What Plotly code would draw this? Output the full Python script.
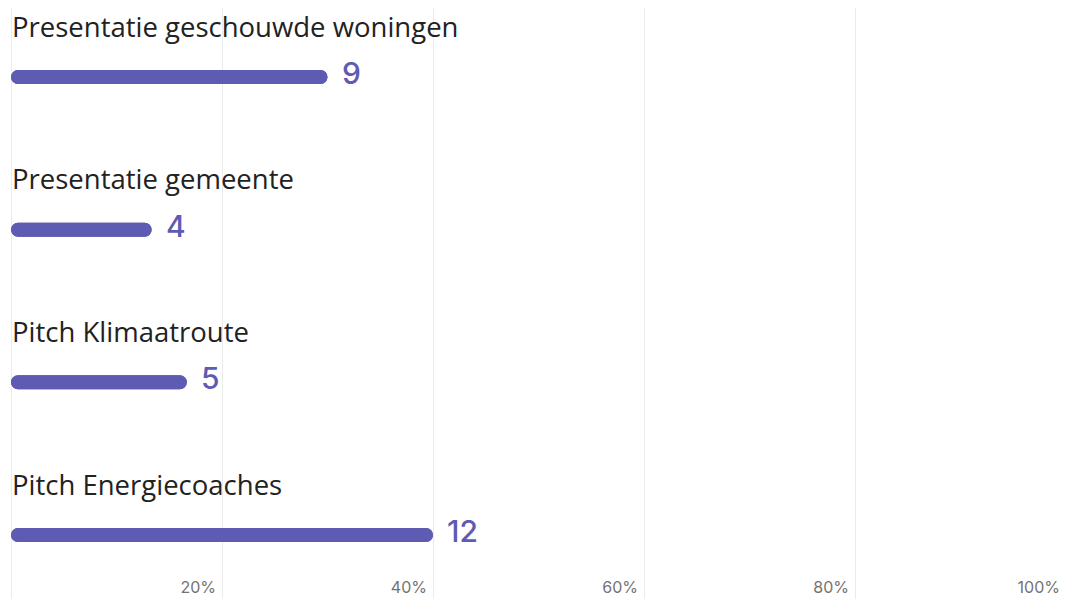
import plotly.graph_objects as go

categories = ["Presentatie geschouwde woningen", "Presentatie gemeente", "Pitch Klimaatroute", "Pitch Energiecoaches"]
counts = [9, 4, 5, 12]
tick_vals = [20, 40, 60, 80, 100]
tick_text = ["20%", "40%", "60%", "80%", "100%"]

total = sum(counts)
pcts = [c / total * 100 for c in counts]
ypos = list(range(len(categories)))

BAR = "#5d5bb2"
W, H = 1072, 594

fig = go.Figure()
# forward bar rounds its right end, backward bar rounds its left end; overlaid they form one pill
fig.add_trace(go.Bar(x=pcts, base=[0] * len(pcts), y=ypos, orientation="h", width=0.092,
                     marker=dict(color=BAR, line=dict(width=0)), hoverinfo="skip"))
fig.add_trace(go.Bar(x=[-p for p in pcts], base=pcts, y=ypos, orientation="h", width=0.092,
                     marker=dict(color=BAR, line=dict(width=0)), hoverinfo="skip"))

for i, (cat, c, p) in enumerate(zip(categories, counts, pcts)):
    fig.add_annotation(x=0, y=i - 0.333, xref="x", yref="y", text=cat, showarrow=False,
                       xanchor="left", yanchor="middle", xshift=-1,
                       font=dict(family="Open Sans", size=27.5, color="#222222"))
    fig.add_annotation(x=p, y=i, xref="x", yref="y", text=str(c), showarrow=False,
                       xanchor="left", yanchor="middle", xshift=12, yshift=4,
                       font=dict(family="Inter", size=30, color=BAR, weight=500))

fig.update_layout(
    width=W, height=H,
    margin=dict(l=3, r=14, t=0, b=0, autoexpand=False),
    plot_bgcolor="white", paper_bgcolor="white",
    showlegend=False,
    barmode="overlay",
    barcornerradius=7,
    xaxis=dict(range=[0, 100], tickvals=tick_vals, ticktext=tick_text,
               ticklabelposition="inside left", showgrid=True, gridcolor="#ebebeb", gridwidth=1,
               zeroline=True, zerolinecolor="#ebebeb", zerolinewidth=1, showline=False,
               ticklabelstandoff=0, ticklabelshift=-6,
               tickfont=dict(family="Inter", size=16, color="#737373"), fixedrange=True),
    yaxis=dict(range=[3.439, -0.452], showticklabels=False, showgrid=False, zeroline=False,
               fixedrange=True),
)
fig.write_html("out.html")
